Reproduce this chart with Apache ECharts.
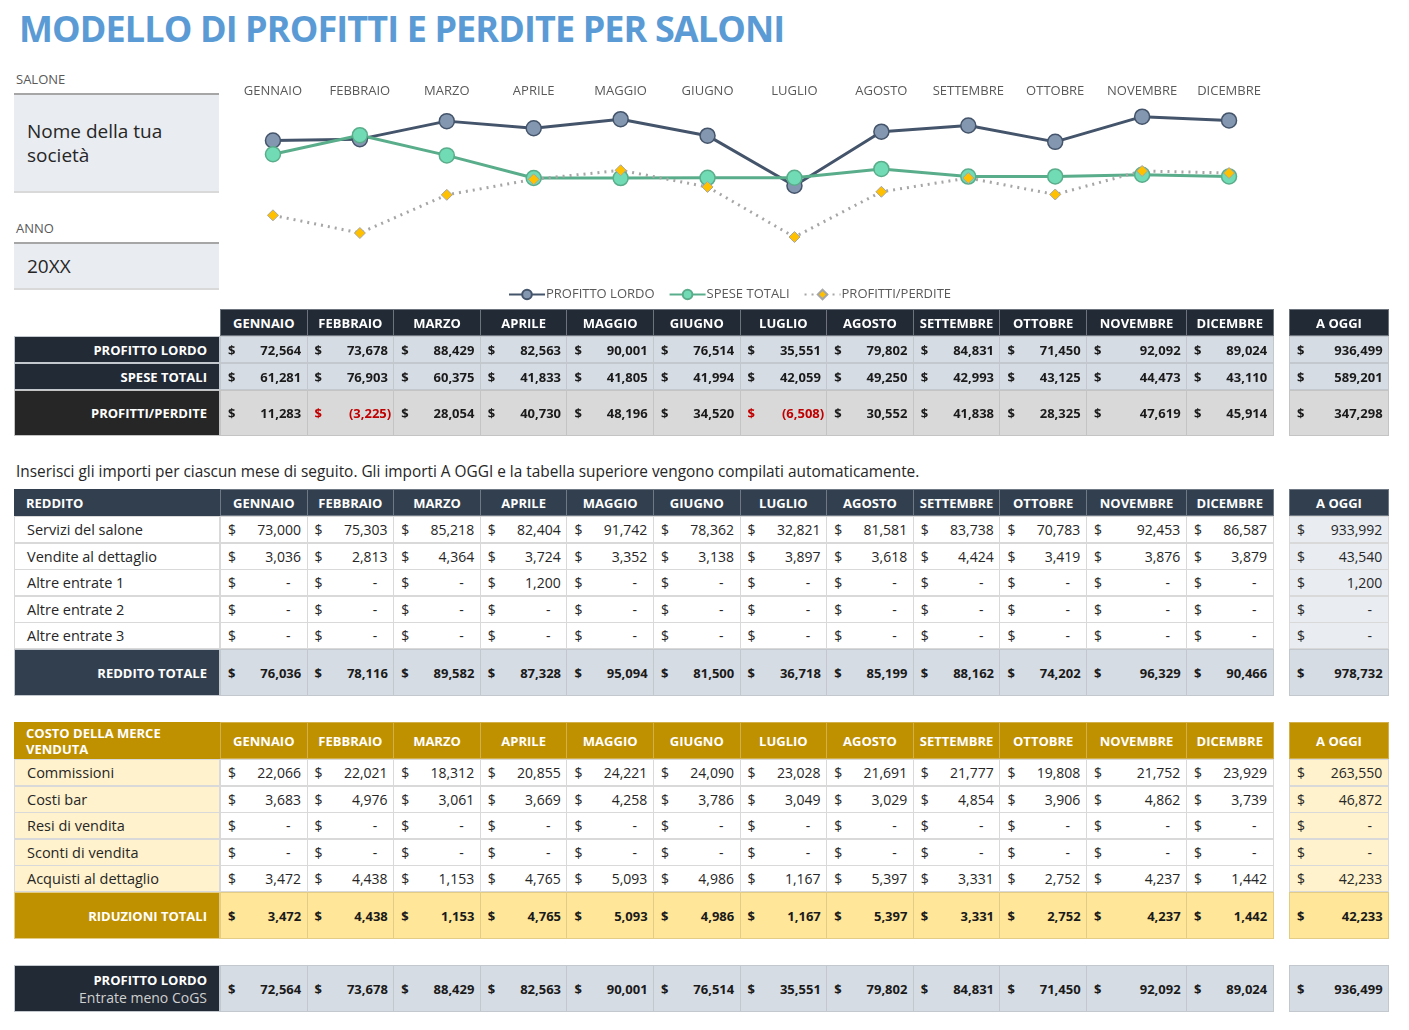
<!DOCTYPE html>
<html>
<head>
<meta charset="utf-8">
<script src="https://cdn.jsdelivr.net/npm/echarts@6/dist/echarts.min.js"></script>
<style>
  body { margin: 0; background: #fff; font-family: 'Open Sans', sans-serif; }
  #page { position: relative; width: 1409px; height: 1030px; overflow: hidden; }
  .c { position: absolute; box-sizing: border-box; display: flex; align-items: center; white-space: nowrap; }
  .t { position: absolute; white-space: nowrap; }
  #chart { position: absolute; left: 220px; top: 70px; width: 1070px; height: 240px; }
</style>
</head>
<body>
<div id="page">
  <div class="t" style="left:19px;top:4px;font-size:36px;font-weight:700;color:#5b9bd5;letter-spacing:-0.9px">MODELLO DI PROFITTI E PERDITE PER SALONI</div>
  <div class="t" style="left:16px;top:70px;font-size:13px;color:#595959">SALONE</div>
  <div class="c" style="left:14px;top:93px;width:205px;height:100px;background:#e9ecf1;border-top:2px solid #a6a6a6;border-bottom:2px solid #d9d9d9;padding-left:13px;font-size:19px;color:#262626;white-space:normal;line-height:24px">Nome della tua<br>società</div>
  <div class="t" style="left:16px;top:219px;font-size:13px;color:#595959">ANNO</div>
  <div class="c" style="left:14px;top:242px;width:205px;height:48px;background:#e9ecf1;border-top:2px solid #a6a6a6;border-bottom:2px solid #d9d9d9;padding-left:13px;font-size:19px;color:#262626">20XX</div>
  <div class="t" style="left:16px;top:461px;font-size:15.4px;color:#262626">Inserisci gli importi per ciascun mese di seguito. Gli importi A OGGI e la tabella superiore vengono compilati automaticamente.</div>
  <div id="chart"></div>
</div>
<script>
  var months = ['GENNAIO', 'FEBBRAIO', 'MARZO', 'APRILE', 'MAGGIO', 'GIUGNO', 'LUGLIO', 'AGOSTO', 'SETTEMBRE', 'OTTOBRE', 'NOVEMBRE', 'DICEMBRE']

  // riepilogo
  var profittoLordo = [72564, 73678, 88429, 82563, 90001, 76514, 35551, 79802, 84831, 71450, 92092, 89024]
  var speseTotali = [61281, 76903, 60375, 41833, 41805, 41994, 42059, 49250, 42993, 43125, 44473, 43110]
  var profittiPerdite = [11283, -3225, 28054, 40730, 48196, 34520, -6508, 30552, 41838, 28325, 47619, 45914]
  var riepilogoOggi = [936499, 589201, 347298]

  // reddito
  var serviziSalone = [73000, 75303, 85218, 82404, 91742, 78362, 32821, 81581, 83738, 70783, 92453, 86587]
  var venditeDettaglio = [3036, 2813, 4364, 3724, 3352, 3138, 3897, 3618, 4424, 3419, 3876, 3879]
  var altreEntrate1 = [0, 0, 0, 1200, 0, 0, 0, 0, 0, 0, 0, 0]
  var altreEntrate2 = [0, 0, 0, 0, 0, 0, 0, 0, 0, 0, 0, 0]
  var altreEntrate3 = [0, 0, 0, 0, 0, 0, 0, 0, 0, 0, 0, 0]
  var redditoTotale = [76036, 78116, 89582, 87328, 95094, 81500, 36718, 85199, 88162, 74202, 96329, 90466]
  var redditoOggi = [933992, 43540, 1200, 0, 0, 978732]

  // costo della merce venduta
  var commissioni = [22066, 22021, 18312, 20855, 24221, 24090, 23028, 21691, 21777, 19808, 21752, 23929]
  var costiBar = [3683, 4976, 3061, 3669, 4258, 3786, 3049, 3029, 4854, 3906, 4862, 3739]
  var resiVendita = [0, 0, 0, 0, 0, 0, 0, 0, 0, 0, 0, 0]
  var scontiVendita = [0, 0, 0, 0, 0, 0, 0, 0, 0, 0, 0, 0]
  var acquistiDettaglio = [3472, 4438, 1153, 4765, 5093, 4986, 1167, 5397, 3331, 2752, 4237, 1442]
  var riduzioniTotali = [3472, 4438, 1153, 4765, 5093, 4986, 1167, 5397, 3331, 2752, 4237, 1442]
  var costoOggi = [263550, 46872, 0, 0, 42233, 42233]

  var page = document.getElementById('page')

  // colonne
  var colW = [86.6, 86.6, 86.6, 86.6, 86.6, 86.6, 86.6, 86.6, 86.6, 86.6, 100, 86.6]
  var colX = []
  var x0 = 220
  colW.forEach(function (w) { colX.push(x0); x0 += w })
  var oggiX = 1289, oggiW = 100

  function fmt(v) {
    if (v === 0) return '-'
    var s = Math.abs(v).toLocaleString('en-US')
    return v < 0 ? '(' + s + ')' : s + '&nbsp;'
  }

  function box(x, y, w, h, css, html) {
    var d = document.createElement('div')
    d.className = 'c'
    d.style.cssText = 'left:' + x + 'px;top:' + y + 'px;width:' + w + 'px;height:' + h + 'px;' + css
    d.innerHTML = html || ''
    page.appendChild(d)
    return d
  }

  function valueCell(x, y, w, h, v, st) {
    var red = v < 0 ? 'color:#c00000;' : ''
    var inner = '<span style="' + red + '">$</span><span style="' + red + (v === 0 ? 'padding-right:14px;' : '') + '">' + fmt(v) + '</span>'
    box(x, y, w, h, 'justify-content:space-between;padding:0 2px 0 7px;background:' + st.bg + ';border:1px solid ' + st.border +
      ';font-size:' + st.size + 'px;font-weight:' + st.weight + ';color:' + st.color, inner)
  }

  function headerRow(y, h, bg, sep, label, labelSize) {
    if (label) {
      box(14, y, 206, h, 'background:' + bg + ';padding-left:12px;color:#fff;font-weight:700;font-size:' + (labelSize || 13) + 'px;line-height:16px;white-space:normal', label)
    }
    months.forEach(function (m, i) {
      box(colX[i], y, colW[i] + 1, h, 'justify-content:center;background:' + bg + ';border:1px solid ' + sep + ';color:#fff;font-weight:700;font-size:13px', m)
    })
    box(oggiX, y, oggiW, h, 'justify-content:center;background:' + bg + ';border:1px solid ' + sep + ';color:#fff;font-weight:700;font-size:13px', 'A OGGI')
  }

  function dataRow(y, h, label, vals, oggi, st) {
    box(14, y, 206, h, 'background:' + st.labelBg + ';border:1px solid ' + st.border + ';' + st.labelCss, label)
    vals.forEach(function (v, i) {
      valueCell(colX[i], y, colW[i] + 1, h, v, st)
    })
    valueCell(oggiX, y, oggiW, h, oggi, { bg: st.oggiBg || st.bg, border: st.border, size: st.size, weight: st.weight, color: st.color })
  }

  var boldLabel = 'justify-content:flex-end;padding-right:12px;color:#fff;font-weight:700;font-size:13px;'
  var plainLabel = 'padding-left:12px;color:#262626;font-size:14.5px;'

  // tabella riepilogo
  headerRow(309, 27, '#222a35', '#6d737c')
  var stSum = { labelBg: '#222a35', labelCss: boldLabel, bg: '#d6dce4', border: '#c3c8cf', size: 13, weight: 700, color: '#1a1a1a' }
  dataRow(336, 27, 'PROFITTO LORDO', profittoLordo, riepilogoOggi[0], stSum)
  dataRow(363, 27, 'SPESE TOTALI', speseTotali, riepilogoOggi[1], stSum)
  dataRow(390, 46, 'PROFITTI/PERDITE', profittiPerdite, riepilogoOggi[2],
    { labelBg: '#262626', labelCss: boldLabel, bg: '#d9d9d9', border: '#c4c4c4', size: 13, weight: 700, color: '#1a1a1a' })

  // tabella reddito
  headerRow(489, 27, '#323f4f', '#6f7986', 'REDDITO')
  var stRed = { labelBg: '#ffffff', labelCss: plainLabel, bg: '#ffffff', oggiBg: '#e9ecf1', border: '#d9d9d9', size: 14, weight: 400, color: '#262626' }
  dataRow(516, 27, 'Servizi del salone', serviziSalone, redditoOggi[0], stRed)
  dataRow(543, 27, 'Vendite al dettaglio', venditeDettaglio, redditoOggi[1], stRed)
  dataRow(569, 27, 'Altre entrate 1', altreEntrate1, redditoOggi[2], stRed)
  dataRow(596, 27, 'Altre entrate 2', altreEntrate2, redditoOggi[3], stRed)
  dataRow(622, 27, 'Altre entrate 3', altreEntrate3, redditoOggi[4], stRed)
  dataRow(649, 47, 'REDDITO TOTALE', redditoTotale, redditoOggi[5],
    { labelBg: '#323f4f', labelCss: boldLabel, bg: '#d6dce4', border: '#c3c8cf', size: 13, weight: 700, color: '#1a1a1a' })

  // tabella costo della merce
  headerRow(722, 37, '#bf9000', '#d4b04d', 'COSTO DELLA MERCE<br>VENDUTA')
  var stCos = { labelBg: '#fff2cc', labelCss: plainLabel, bg: '#ffffff', oggiBg: '#fff2cc', border: '#d9d9d9', size: 14, weight: 400, color: '#262626' }
  dataRow(759, 27, 'Commissioni', commissioni, costoOggi[0], stCos)
  dataRow(786, 27, 'Costi bar', costiBar, costoOggi[1], stCos)
  dataRow(812, 27, 'Resi di vendita', resiVendita, costoOggi[2], stCos)
  dataRow(839, 27, 'Sconti di vendita', scontiVendita, costoOggi[3], stCos)
  dataRow(865, 27, 'Acquisti al dettaglio', acquistiDettaglio, costoOggi[4], stCos)
  dataRow(892, 47, 'RIDUZIONI TOTALI', riduzioniTotali, costoOggi[5],
    { labelBg: '#bf9000', labelCss: boldLabel, bg: '#ffe699', border: '#e3cc85', size: 13, weight: 700, color: '#1a1a1a' })

  // profitto lordo finale
  dataRow(965, 47, '<div style="text-align:right;line-height:17px"><b style="color:#fff;font-size:13px">PROFITTO LORDO</b><br><span style="color:#d0d0d0;font-size:14px">Entrate meno CoGS</span></div>',
    profittoLordo, riepilogoOggi[0],
    { labelBg: '#222a35', labelCss: 'justify-content:flex-end;padding-right:12px;', bg: '#d6dce4', border: '#c3c8cf', size: 13, weight: 700, color: '#1a1a1a' })

  // grafico
  var chart = echarts.init(document.getElementById('chart'))
  chart.setOption({
    animation: false,
    textStyle: { fontFamily: 'Open Sans' },
    grid: { left: 9.5, width: 1043, top: 37, height: 146.5 },
    legend: {
      top: 213,
      left: 283,
      itemWidth: 36,
      itemHeight: 12,
      itemGap: 14,
      textStyle: { color: '#595959', fontSize: 13, padding: [0, 0, 0, -4] },
      data: ['PROFITTO LORDO', 'SPESE TOTALI', 'PROFITTI/PERDITE']
    },
    xAxis: {
      type: 'category',
      position: 'top',
      data: months,
      axisLine: { show: false },
      axisTick: { show: false },
      axisLabel: { color: '#595959', fontSize: 13, margin: 9, interval: 0 }
    },
    yAxis: {
      type: 'value',
      min: -20000,
      max: 100000,
      show: false
    },
    series: [{
        name: 'PROFITTO LORDO',
        type: 'line',
        data: profittoLordo,
        symbol: 'circle',
        symbolSize: 15,
        lineStyle: { color: '#44546a', width: 3 },
        itemStyle: { color: '#8497b0', borderColor: '#44546a', borderWidth: 1.5 }
      },
      {
        name: 'SPESE TOTALI',
        type: 'line',
        data: speseTotali,
        symbol: 'circle',
        symbolSize: 15,
        lineStyle: { color: '#5aad8b', width: 3 },
        itemStyle: { color: '#70dbb5', borderColor: '#5aad8b', borderWidth: 1.5 }
      },
      {
        name: 'PROFITTI/PERDITE',
        type: 'line',
        data: profittiPerdite,
        symbol: 'diamond',
        symbolSize: 11,
        lineStyle: { color: '#a6a6a6', width: 3, type: [2, 5] },
        itemStyle: { color: '#ffc000', borderColor: '#a6a6a6', borderWidth: 1 }
      }
    ]
  })
</script>
</body>
</html>
